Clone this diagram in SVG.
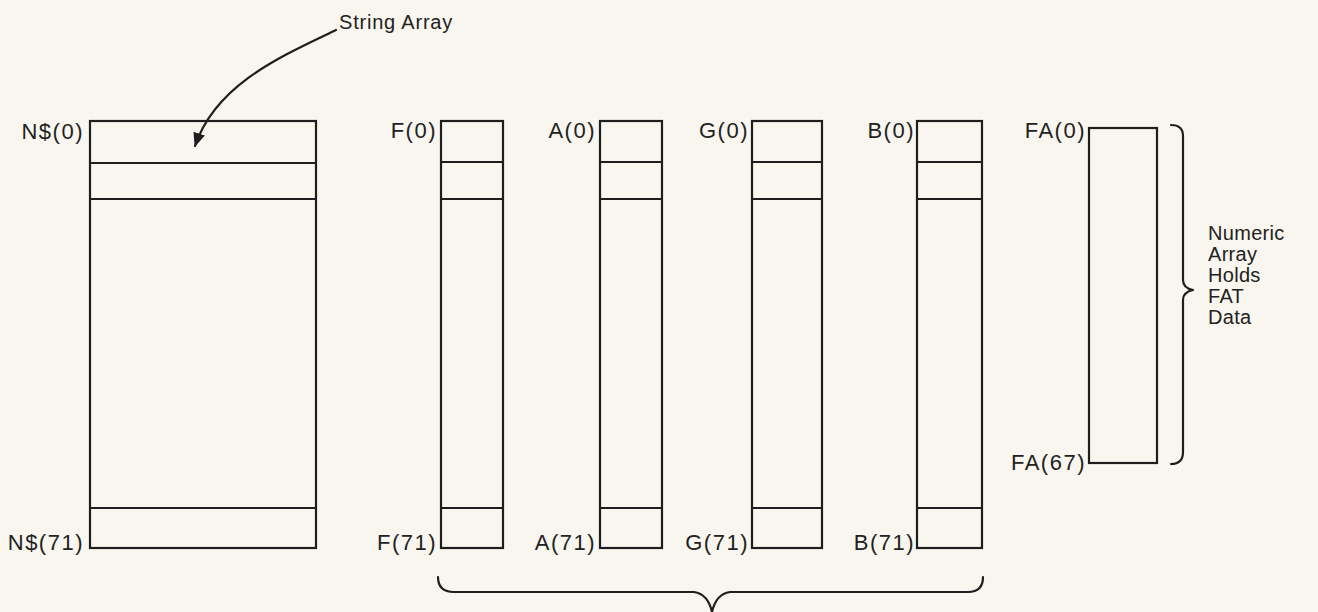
<svg xmlns="http://www.w3.org/2000/svg" width="1318" height="612" viewBox="0 0 1318 612">
<style>
.box{fill:none;stroke:#1e1e1e;stroke-width:2.2}
.ln{stroke:#1e1e1e;stroke-width:2.2}
.br{fill:none;stroke:#1e1e1e;stroke-width:2.2;stroke-linecap:round;stroke-linejoin:round}
text{font-family:"Liberation Sans",Arial,sans-serif;font-size:22px;fill:#222;letter-spacing:1.5px}
.lbl{text-anchor:end}
.note{font-size:20px;letter-spacing:0.3px}
</style>
<defs>
<marker id="ah" viewBox="0 0 14 12" refX="13" refY="6" markerWidth="14" markerHeight="12" markerUnits="userSpaceOnUse" orient="auto">
<path d="M0,0 L14,6 L0,12 z" fill="#1e1e1e"/>
</marker>
</defs>
<rect width="1318" height="612" fill="#f8f6ee"/>

<g id="string-array-label">
<text x="339" y="29" style="font-size:20px;letter-spacing:0.8px">String Array</text>
</g>

<g id="nstr">
<rect class="box" x="90" y="121" width="226" height="427"/>
<line class="ln" x1="90" y1="163" x2="316" y2="163"/>
<line class="ln" x1="90" y1="199" x2="316" y2="199"/>
<line class="ln" x1="90" y1="508" x2="316" y2="508"/>
<text class="lbl" x="84" y="139">N$(0)</text>
<text class="lbl" x="84" y="550">N$(71)</text>
</g>

<g id="farr">
<rect class="box" x="441" y="121" width="62" height="427"/>
<line class="ln" x1="441" y1="162" x2="503" y2="162"/>
<line class="ln" x1="441" y1="199" x2="503" y2="199"/>
<line class="ln" x1="441" y1="508" x2="503" y2="508"/>
<text class="lbl" x="437" y="138">F(0)</text>
<text class="lbl" x="437" y="550">F(71)</text>
</g>

<g id="aarr">
<rect class="box" x="600" y="121" width="62" height="427"/>
<line class="ln" x1="600" y1="162" x2="662" y2="162"/>
<line class="ln" x1="600" y1="199" x2="662" y2="199"/>
<line class="ln" x1="600" y1="508" x2="662" y2="508"/>
<text class="lbl" x="596" y="138">A(0)</text>
<text class="lbl" x="596" y="550">A(71)</text>
</g>

<g id="garr">
<rect class="box" x="752" y="121" width="70" height="427"/>
<line class="ln" x1="752" y1="162" x2="822" y2="162"/>
<line class="ln" x1="752" y1="199" x2="822" y2="199"/>
<line class="ln" x1="752" y1="508" x2="822" y2="508"/>
<text class="lbl" x="749" y="138">G(0)</text>
<text class="lbl" x="749" y="550">G(71)</text>
</g>

<g id="barr">
<rect class="box" x="917" y="121" width="65" height="427"/>
<line class="ln" x1="917" y1="162" x2="982" y2="162"/>
<line class="ln" x1="917" y1="199" x2="982" y2="199"/>
<line class="ln" x1="917" y1="508" x2="982" y2="508"/>
<text class="lbl" x="915" y="138">B(0)</text>
<text class="lbl" x="915" y="550">B(71)</text>
</g>

<g id="faarr">
<rect class="box" x="1089" y="128" width="68" height="335"/>
<text class="lbl" x="1086" y="138">FA(0)</text>
<text class="lbl" x="1086" y="470">FA(67)</text>
</g>

<g id="numeric-note">
<text class="note" x="1208" y="240">Numeric</text>
<text class="note" x="1208" y="261">Array</text>
<text class="note" x="1208" y="282">Holds</text>
<text class="note" x="1208" y="303">FAT</text>
<text class="note" x="1208" y="324">Data</text>
</g>

<g id="connectors">
<path class="br" d="M336,30 C282,56 216,84 195,146" marker-end="url(#ah)"/>
<path class="br" d="M1171,125 Q1183,125 1183,136 L1183,280 Q1183,288 1193,290 Q1183,292 1183,300 L1183,452 Q1183,464 1171,464"/>
<path class="br" d="M438,577 Q438,592 454,592 L694,592 Q708,594 712,612 Q716,594 730,592 L968,592 Q983,592 983,577"/>
</g>
</svg>
